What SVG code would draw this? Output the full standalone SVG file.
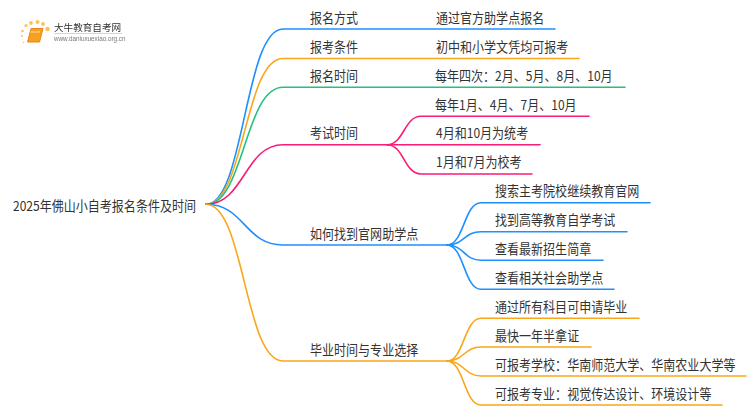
<svg xmlns="http://www.w3.org/2000/svg" width="750" height="410" viewBox="0 0 750 410">
<style>
text{font-family:"Noto Sans CJK SC","Liberation Sans",sans-serif;font-size:13.600px;fill:#333}
.c{fill:none;stroke-width:1.6;stroke-linecap:round}
.b{stroke:#1e90ff}.o{stroke:#faa61a}.g{stroke:#25c07f}.p{stroke:#fb1a75}
</style>
<defs><filter id="s" x="-5%" y="-5%" width="110%" height="110%"><feGaussianBlur stdDeviation="0.35"/></filter></defs>
<rect width="750" height="410" fill="#fff"/>
<g id="logo" filter="url(#s)">
<g fill="#fbc25a"><circle cx="47.500" cy="29" r="2.300"/><circle cx="43" cy="24" r="1.900"/><circle cx="37.500" cy="22" r="2"/><circle cx="31" cy="23" r="1.900"/><circle cx="26" cy="25.500" r="1.600"/><circle cx="22.500" cy="31" r="1.300"/><circle cx="22" cy="36" r="1"/><circle cx="23.500" cy="42.500" r="0.800"/></g>
<path d="M31 28.500H43L39.500 42H27.500Z" fill="#f7a123" stroke="#e8841a" stroke-width="1" stroke-linejoin="round"/>
<path d="M30.500 32H40" stroke="#fde0a0" stroke-width="1" fill="none"/>
<text x="54" y="31" style="font-size:9.600px">大牛教育自考网</text>
<path d="M54 33.500H122" stroke="#ccc" stroke-width="0.800"/>
<text x="54" y="41" style="font-size:6.300px;fill:#777;font-family:'Liberation Sans',sans-serif">www.daniuxuexiao.org.cn</text>
</g>
<g id="connectors">
<path class="c b" d="M206 204.300C244.500 204.300 244.500 29 283 29H555"/>
<path class="c o" d="M206 204.300C244.500 204.300 244.500 58.500 283 58.500H579"/>
<path class="c g" d="M206 204.300C244.500 204.300 244.500 87.300 283 87.300H625"/>
<path class="c p" d="M206 204.300C244.500 204.300 244.500 144.700 283 144.700H387"/>
<path class="c b" d="M206 204.300C244.500 204.300 244.500 245 283 245H447"/>
<path class="c o" d="M206 204.300C244.500 204.300 244.500 361 283 361H447"/>
<path class="c p" d="M387 144.700C404 144.700 404 116.300 421 116.300H589"/>
<path class="c p" d="M387 144.700H540"/>
<path class="c p" d="M387 144.700C404 144.700 404 174 421 174H532"/>
<path class="c b" d="M447 245C464 245 464 202.700 481 202.700H650"/>
<path class="c b" d="M447 245C464 245 464 231.700 481 231.700H627"/>
<path class="c b" d="M447 245C464 245 464 260.300 481 260.300H603"/>
<path class="c b" d="M447 245C464 245 464 289.300 481 289.300H614"/>
<path class="c o" d="M447 361C464 361 464 318.300 481 318.300H639"/>
<path class="c o" d="M447 361C464 361 464 347 481 347H591"/>
<path class="c o" d="M447 361C464 361 464 376 481 376H746"/>
<path class="c o" d="M447 361C464 361 464 405 481 405H722"/>
</g>
<g id="root"><text transform="matrix(.885 0 0 1 13 211)">2025年佛山小自考报名条件及时间</text></g>
<g id="n1"><text transform="matrix(.885 0 0 1 310 23)">报名方式</text></g>
<g id="n2"><text transform="matrix(.885 0 0 1 310 52)">报考条件</text></g>
<g id="n3"><text transform="matrix(.885 0 0 1 310 81)">报名时间</text></g>
<g id="n4"><text transform="matrix(.885 0 0 1 310 138)">考试时间</text></g>
<g id="n5"><text transform="matrix(.885 0 0 1 310 239)">如何找到官网助学点</text></g>
<g id="n6"><text transform="matrix(.885 0 0 1 310 355)">毕业时间与专业选择</text></g>
<g id="n1a"><text transform="matrix(.885 0 0 1 436 23)">通过官方助学点报名</text></g>
<g id="n2a"><text transform="matrix(.885 0 0 1 436 52)">初中和小学文凭均可报考</text></g>
<g id="n3a"><text transform="matrix(.885 0 0 1 435 81)">每年四次：2月、5月、8月、10月</text></g>
<g id="n4a"><text transform="matrix(.885 0 0 1 435 110)">每年1月、4月、7月、10月</text></g>
<g id="n4b"><text transform="matrix(.885 0 0 1 436 138)">4月和10月为统考</text></g>
<g id="n4c"><text transform="matrix(.885 0 0 1 436 167)">1月和7月为校考</text></g>
<g id="n5a"><text transform="matrix(.885 0 0 1 495 196)">搜索主考院校继续教育官网</text></g>
<g id="n5b"><text transform="matrix(.885 0 0 1 495 225)">找到高等教育自学考试</text></g>
<g id="n5c"><text transform="matrix(.885 0 0 1 495 254)">查看最新招生简章</text></g>
<g id="n5d"><text transform="matrix(.885 0 0 1 495 283)">查看相关社会助学点</text></g>
<g id="n6a"><text transform="matrix(.885 0 0 1 495 312)">通过所有科目可申请毕业</text></g>
<g id="n6b"><text transform="matrix(.885 0 0 1 495 341)">最快一年半拿证</text></g>
<g id="n6c"><text transform="matrix(.885 0 0 1 495 370)">可报考学校：华南师范大学、华南农业大学等</text></g>
<g id="n6d"><text transform="matrix(.885 0 0 1 495 399)">可报考专业：视觉传达设计、环境设计等</text></g>
</svg>
